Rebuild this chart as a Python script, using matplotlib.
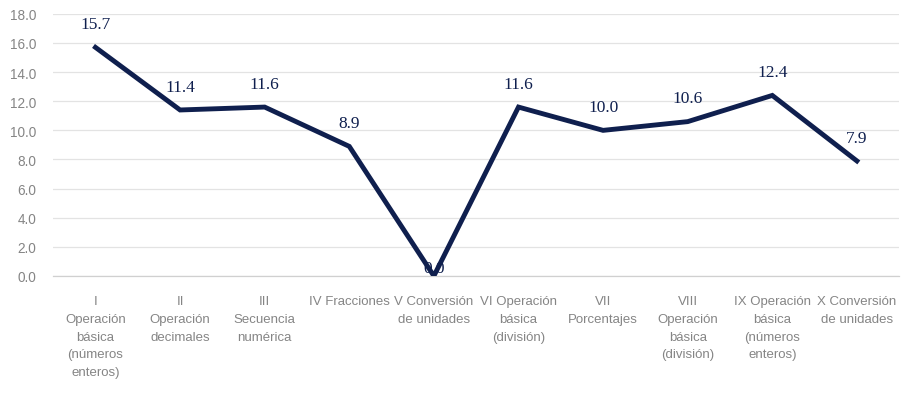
import matplotlib
matplotlib.use("Agg")
import matplotlib.pyplot as plt
import numpy as np

categories = [
    "I\nOperación\nbásica\n(números\nenteros)",
    "II\nOperación\ndecimales",
    "III\nSecuencia\nnumérica",
    "IV Fracciones",
    "V Conversión\nde unidades",
    "VI Operación\nbásica\n(división)",
    "VII\nPorcentajes",
    "VIII\nOperación\nbásica\n(división)",
    "IX Operación\nbásica\n(números\nenteros)",
    "X Conversión\nde unidades",
]
values = [15.7, 11.4, 11.6, 8.9, 0.0, 11.6, 10.0, 10.6, 12.4, 7.9]
y_ticks = [0, 2, 4, 6, 8, 10, 12, 14, 16, 18]

navy = "#0f1f4e"
gray = "#858585"
sans = ["Liberation Sans", "DejaVu Sans"]

fig = plt.figure(figsize=(9.01, 4.02), dpi=100)
ax = fig.add_axes([0.059, 0.311, 0.939, 0.652])

x = np.arange(len(values))
ax.plot(x, values, color=navy, linewidth=3.5, solid_joinstyle="miter", zorder=3)

for xi, v in zip(x, values):
    off = 0 if v == 0 else 11
    ax.annotate(f"{v:.1f}", (xi, v), xytext=(0, off), textcoords="offset points",
                ha="center", va="bottom", color=navy, fontsize=12.5,
                family="Liberation Serif", zorder=4)

ax.set_xlim(-0.5, len(values) - 0.5)
ax.set_ylim(0, 18)
ax.set_yticks(y_ticks)
ax.set_yticklabels([f"{t:.1f}" for t in y_ticks], family=sans, fontsize=9.8, color=gray)
ax.set_xticks(x)
ax.set_xticklabels(categories, family=sans, fontsize=9.5, color=gray, linespacing=1.62)
ax.tick_params(axis="both", length=0)
ax.tick_params(axis="x", pad=14)
ax.tick_params(axis="y", pad=12)

ax.grid(axis="y", color="#e3e3e3", linewidth=0.9)
ax.set_axisbelow(True)
for s in ["top", "right", "left"]:
    ax.spines[s].set_visible(False)
ax.spines["bottom"].set_color("#d0d0d0")
ax.spines["bottom"].set_linewidth(0.9)

fig.savefig("out.png", dpi=100)
